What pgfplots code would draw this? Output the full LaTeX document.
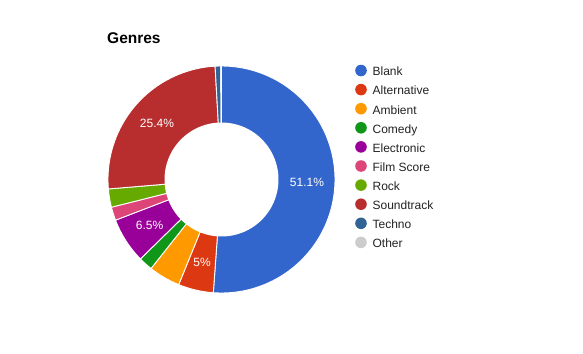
\documentclass[border=0pt]{standalone}
\usepackage{fontspec}
\setmainfont{Liberation Sans}
\usepackage{pgfplots}
\usepackage{pgfplotstable}
\pgfplotsset{compat=1.18}

\definecolor{c0}{HTML}{3366CC}
\definecolor{c1}{HTML}{DC3912}
\definecolor{c2}{HTML}{FF9900}
\definecolor{c3}{HTML}{109618}
\definecolor{c4}{HTML}{990099}
\definecolor{c5}{HTML}{DD4477}
\definecolor{c6}{HTML}{66AA00}
\definecolor{c7}{HTML}{B82E2E}
\definecolor{c8}{HTML}{316395}
\definecolor{c9}{HTML}{CCCCCC}
\definecolor{legtext}{HTML}{222222}

\pgfplotstableread[col sep=comma]{
genre,share
Blank,51.1
Alternative,5
Ambient,4.5
Comedy,2.0
Electronic,6.5
Film Score,1.9
Rock,2.6
Soundtrack,25.4
Techno,0.8
Other,0.1
}\genres

\def\cx{221.5}
\def\cy{174.5}
\def\rout{113.5}
\def\rin{57}
\def\rlab{85.5}
\newcommand\getc[2]{\csname #1#2\endcsname}

\begin{document}
\begin{tikzpicture}
\pgfplotstablegetrowsof{\genres}
\pgfmathtruncatemacro\nrows{\pgfplotsretval-1}
\gdef\total{0}
\foreach \i in {0,...,\nrows}{
  \pgfplotstablegetelem{\i}{share}\of\genres
  \pgfmathsetmacro\tmpT{\total+\pgfplotsretval}
  \xdef\total{\tmpT}
}
\gdef\cum{0}
\foreach \i in {0,...,\nrows}{
  \pgfplotstablegetelem{\i}{share}\of\genres
  \let\myV\pgfplotsretval
  \expandafter\xdef\csname sV\i\endcsname{\myV}
  \pgfmathsetmacro\myA{\cum/\total*360}
  \pgfmathsetmacro\myN{\cum+\myV}
  \pgfmathsetmacro\myB{\myN/\total*360}
  \pgfmathsetmacro\myM{(\myA+\myB)/2}
  \pgfmathsetmacro\myLX{\cx+\rlab*sin(\myM)}
  \pgfmathsetmacro\myLY{\cy+\rlab*cos(\myM)}
  \expandafter\xdef\csname aA\i\endcsname{\myA}
  \expandafter\xdef\csname aB\i\endcsname{\myB}
  \expandafter\xdef\csname lX\i\endcsname{\myLX}
  \expandafter\xdef\csname lY\i\endcsname{\myLY}
  \pgfplotstablegetelem{\i}{genre}\of\genres
  \expandafter\xdef\csname sN\i\endcsname{\pgfplotsretval}
  \xdef\cum{\myN}
}
\begin{axis}[
  hide axis, scale only axis,
  x=1bp, y=1bp,
  xmin=0, xmax=583, ymin=0, ymax=354,
  clip=false, at={(0,0)}, anchor=south west,
  legend cell align=left,
  legend style={at={(axis cs:355,289.5)}, anchor=north west, draw=none, fill=none,
    inner sep=0pt, row sep=6bp, column sep=5.8bp,
    font=\fontsize{12bp}{14bp}\selectfont, text=legtext,
    nodes={inner sep=0pt, text height=9bp, text depth=2bp}},
  legend image code/.code={\fill[#1] (0bp,1.8bp) circle (5.8bp);},
]
\pgfplotsinvokeforeach{0,...,9}{
  \addplot[draw=white, line width=0.9bp, fill=c#1, forget plot,
    domain=\getc{aA}{#1}:\getc{aB}{#1}, samples=90, variable=\t]
    ({\cx+\rout*sin(\t)},{\cy+\rout*cos(\t)}) -- (axis cs:\cx,\cy) -- cycle;
}
\addplot[draw=none, fill=white, forget plot, domain=0:360, samples=150, variable=\t]
  ({\cx+\rin*sin(\t)},{\cy+\rin*cos(\t)}) -- cycle;
\pgfplotsinvokeforeach{0,...,9}{
  \addlegendimage{fill=c#1, draw=none}
  \addlegendentry{\getc{sN}{#1}}
}
\pgfplotsinvokeforeach{0,1,4,7}{
  \node[text=white, font=\fontsize{12bp}{14bp}\selectfont, inner sep=0pt]
    at (axis cs:\getc{lX}{#1},\getc{lY}{#1}) {\getc{sV}{#1}\%};
}
\node[anchor=base west, inner sep=0pt, font=\bfseries\fontsize{15.5bp}{18bp}\selectfont]
  at (axis cs:107,310.7) {Genres};
\end{axis}
\pgfresetboundingbox
\path (0,0) rectangle (583bp,354bp);
\end{tikzpicture}
\end{document}
